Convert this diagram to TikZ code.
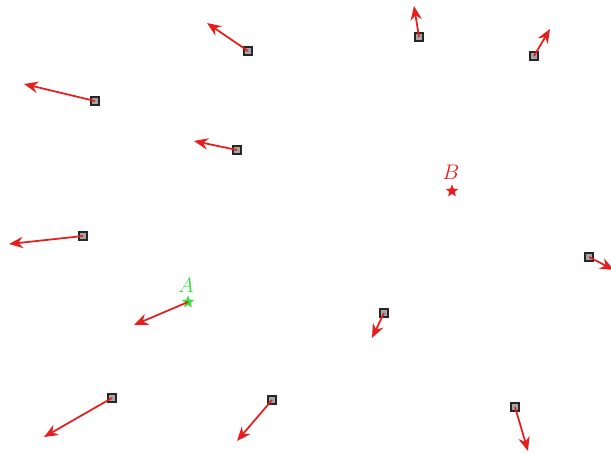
\documentclass[tikz,border=0pt]{standalone}
\usetikzlibrary{shapes.geometric,arrows.meta}
\definecolor{arrred}{RGB}{230,30,30}
\definecolor{agreen}{RGB}{60,220,60}
\tikzset{
  sq/.style={rectangle,draw=black!85,fill=gray!70,line width=1.1pt,minimum size=4.5pt,inner sep=0pt},
  vec/.style={draw=arrred,line width=1pt,-{Stealth[length=8pt,width=6.5pt]}},
  pt/.style={star,star points=5,star point ratio=2.3,inner sep=0pt,minimum size=7.5pt},
  lbl/.style={font=\fontsize{12.5}{14}\selectfont,inner sep=0pt}
}
\begin{document}
\begin{tikzpicture}[x=0.02cm,y=-0.02cm]
\useasboundingbox (0,0) rectangle (611,453);
\clip (0,0) rectangle (611,453);
% squares
\node[sq] (s1) at (248,51) {};
\node[sq] (s2) at (419,37) {};
\node[sq] (s3) at (534,56) {};
\node[sq] (s4) at (95,101) {};
\node[sq] (s5) at (237,150) {};
\node[sq] (s6) at (83,236) {};
\node[sq] (s7) at (589,257) {};
\node[sq] (s8) at (384,313) {};
\node[sq] (s9) at (112,398) {};
\node[sq] (s10) at (272,400) {};
\node[sq] (s11) at (515,407) {};
% stars
\node[pt,fill=agreen] (pa) at (188,302) {};
\node[pt,fill=arrred] (pb) at (452,191) {};
\node[lbl,text=agreen] (la) at (186,285) {$A$};
\node[lbl,text=arrred] (lb) at (451,172) {$B$};
% tips
\coordinate (t1) at (207,23);
\coordinate (t2) at (414,6);
\coordinate (t3) at (550,29);
\coordinate (t4) at (24,84);
\coordinate (t5) at (194,141);
\coordinate (t6) at (9,244);
\coordinate (t7) at (614,270);
\coordinate (t8) at (372,338);
\coordinate (t9) at (44,437);
\coordinate (t10) at (237,441);
\coordinate (t11) at (528,451);
\coordinate (ta) at (134,325);
% arrows
\draw[vec] (s1.center) -- (t1);
\draw[vec] (s2.center) -- (t2);
\draw[vec] (s3.center) -- (t3);
\draw[vec] (s4.center) -- (t4);
\draw[vec] (s5.center) -- (t5);
\draw[vec] (s6.center) -- (t6);
\draw[vec] (s7.center) -- (t7);
\draw[vec] (s8.center) -- (t8);
\draw[vec] (s9.center) -- (t9);
\draw[vec] (s10.center) -- (t10);
\draw[vec] (s11.center) -- (t11);
\draw[vec] (pa.center) -- (ta);
\end{tikzpicture}
\end{document}
